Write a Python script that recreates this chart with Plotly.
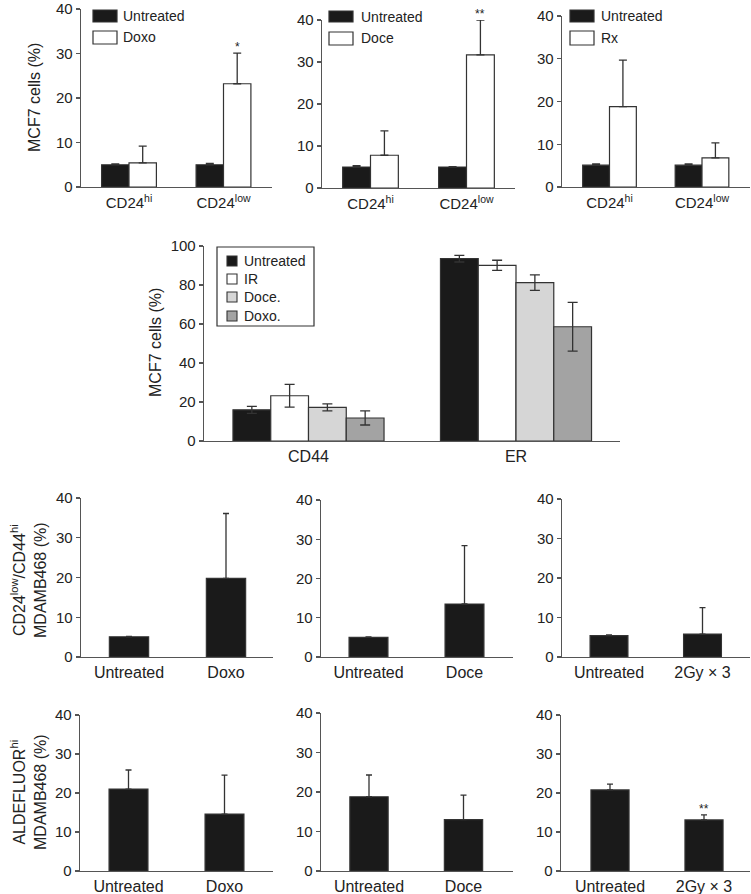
import plotly.graph_objects as go

W, H = 751, 894

# ---------------- DATA ----------------
# Row 1 : MCF7 CD24 populations
cd24_cats = ["CD24<sup>hi</sup>", "CD24<sup>low</sup>"]
r1a_untreated = [5.0, 5.0]
r1a_untreated_err = [0.2, 0.3]
r1a_doxo = [5.4, 23.2]
r1a_doxo_err = [3.8, 6.9]

r1b_untreated = [5.0, 5.0]
r1b_untreated_err = [0.3, 0.1]
r1b_doce = [7.8, 31.7]
r1b_doce_err = [5.8, 8.3]

r1c_untreated = [5.1, 5.1]
r1c_untreated_err = [0.3, 0.3]
r1c_rx = [18.8, 6.8]
r1c_rx_err = [10.9, 3.5]

# Row 2 : MCF7 CD44 / ER
marker_cats = ["CD44", "ER"]
r2_untreated = [16.0, 93.5]
r2_untreated_err = [1.8, 1.7]
r2_ir = [23.2, 90.1]
r2_ir_err = [5.8, 2.6]
r2_doce = [17.2, 81.2]
r2_doce_err = [1.8, 4.0]
r2_doxo = [11.8, 58.6]
r2_doxo_err = [3.6, 12.5]

# Row 3 : MDAMB468 CD24low/CD44hi
r3a_cats = ["Untreated", "Doxo"]
r3a_vals = [5.1, 19.8]
r3a_err = [0.1, 16.3]
r3b_cats = ["Untreated", "Doce"]
r3b_vals = [5.0, 13.5]
r3b_err = [0.1, 14.9]
r3c_cats = ["Untreated", "2Gy × 3"]
r3c_vals = [5.4, 5.8]
r3c_err = [0.2, 6.7]

# Row 4 : MDAMB468 ALDEFLUORhi
r4a_vals = [21.0, 14.6]
r4a_err = [4.9, 10.0]
r4b_vals = [18.8, 13.0]
r4b_err = [5.5, 6.2]
r4c_vals = [20.8, 13.1]
r4c_err = [1.5, 1.3]

# ---------------- STYLE ----------------
FONT = "Liberation Sans, Arial, Helvetica, sans-serif"
TXT = "#222222"
AXC = "#555555"
BLACK = "#1a1a1a"
WHITE = "#ffffff"
LGREY = "#d6d6d6"
MGREY = "#a3a3a3"
OUT = "#333333"

# panel layout: (a, b, c0, c1, y_bottom_px, y_top_px, ymax, dtick)
panels = [
    (81, 272, 129, 223.5, 187, 9, 40, 10),
    (322, 515, 370.5, 466.5, 188, 20, 40, 10),
    (562, 750, 609.5, 702, 187, 16, 40, 10),
    (204, 620, 308.5, 516, 441, 246, 100, 20),
    (81, 273, 129, 226, 657, 498, 40, 10),
    (321, 513, 368.5, 464.5, 657, 500, 40, 10),
    (562, 750, 609, 702.5, 657, 499, 40, 10),
    (80, 273, 128.5, 224.5, 871, 715, 40, 10),
    (321, 513, 369, 463.5, 871, 713, 40, 10),
    (561, 750, 610, 704, 871, 715, 40, 10),
]
xtick_sizes = [15, 15, 15, 16, 16, 16, 16, 16, 16, 16]
xtick_standoff = [2, 2, 2, 0, 0, 0, 0, 0, 0, 0]

fig = go.Figure()


def ax(i):
    return ("x" if i == 1 else f"x{i}"), ("y" if i == 1 else f"y{i}")


def add_bar(i, cats, vals, err, color, width, offset, sym, cap):
    xa, ya = ax(i)
    e = dict(type="data", array=err, color=OUT, thickness=1.3, width=cap)
    if sym:
        e["symmetric"] = True
    else:
        e["symmetric"] = False
        e["arrayminus"] = [0] * len(err)
    fig.add_trace(go.Bar(
        x=cats, y=vals, width=width, offset=offset,
        marker=dict(color=color, line=dict(color=OUT, width=1.2)),
        error_y=e, xaxis=xa, yaxis=ya, showlegend=False,
    ))


# Row 1
w1 = 0.29
add_bar(1, cd24_cats, r1a_untreated, r1a_untreated_err, BLACK, w1, -w1, False, 4)
add_bar(1, cd24_cats, r1a_doxo, r1a_doxo_err, WHITE, w1, 0, False, 4)
add_bar(2, cd24_cats, r1b_untreated, r1b_untreated_err, BLACK, w1, -w1, False, 4)
add_bar(2, cd24_cats, r1b_doce, r1b_doce_err, WHITE, w1, 0, False, 4)
add_bar(3, cd24_cats, r1c_untreated, r1c_untreated_err, BLACK, w1, -w1, False, 4)
add_bar(3, cd24_cats, r1c_rx, r1c_rx_err, WHITE, w1, 0, False, 4)

# Row 2
w2 = 0.182
add_bar(4, marker_cats, r2_untreated, r2_untreated_err, BLACK, w2, -2 * w2, True, 5)
add_bar(4, marker_cats, r2_ir, r2_ir_err, WHITE, w2, -w2, True, 5)
add_bar(4, marker_cats, r2_doce, r2_doce_err, LGREY, w2, 0, True, 5)
add_bar(4, marker_cats, r2_doxo, r2_doxo_err, MGREY, w2, w2, True, 5)

# Rows 3-4
w3 = 0.405
add_bar(5, r3a_cats, r3a_vals, r3a_err, BLACK, w3, -w3 / 2, False, 3)
add_bar(6, r3b_cats, r3b_vals, r3b_err, BLACK, w3, -w3 / 2, False, 3)
add_bar(7, r3c_cats, r3c_vals, r3c_err, BLACK, w3, -w3 / 2, False, 3)
add_bar(8, r3a_cats, r4a_vals, r4a_err, BLACK, w3, -w3 / 2, False, 3)
add_bar(9, r3b_cats, r4b_vals, r4b_err, BLACK, w3, -w3 / 2, False, 3)
add_bar(10, r3c_cats, r4c_vals, r4c_err, BLACK, w3, -w3 / 2, False, 3)

layout = dict(
    width=W, height=H, margin=dict(l=0, r=0, t=0, b=0, autoexpand=False),
    paper_bgcolor="white", plot_bgcolor="white",
    font=dict(family=FONT, color=TXT, size=15),
    showlegend=False,
)

for k, (a, b, c0, c1, yb, yt, ymax, dt) in enumerate(panels):
    i = k + 1
    d = c1 - c0
    r0 = -(c0 - a) / d
    r1 = 1 + (b - c1) / d
    xk = "xaxis" if i == 1 else f"xaxis{i}"
    yk = "yaxis" if i == 1 else f"yaxis{i}"
    xa, ya = ax(i)
    layout[xk] = dict(
        domain=[a / W, b / W], range=[r0, r1], type="category",
        anchor=ya, showline=True, linecolor=AXC, linewidth=1.3,
        ticks="", showgrid=False, zeroline=False, automargin=False,
        ticklabelstandoff=xtick_standoff[k],
        tickfont=dict(size=xtick_sizes[k], color=TXT), fixedrange=True,
    )
    layout[yk] = dict(
        domain=[1 - yb / H, 1 - yt / H], range=[0, ymax], dtick=dt,
        anchor=xa, showline=True, linecolor=AXC, linewidth=1.3,
        ticks="outside", ticklen=4, tickcolor=AXC, tickwidth=1.2,
        showgrid=False, zeroline=False, automargin=False,
        tickfont=dict(size=15, color=TXT), fixedrange=True,
    )

fig.update_layout(**layout)


def px(x):
    return x / W


def py(y):
    return 1 - y / H


shapes = []
annots = []

# Row 1 legends
leg1 = [
    (93, 117, [(10, 22), (31, 44)], 121, ["Untreated", "Doxo"]),
    (329, 353, [(11, 22), (32, 45)], 359, ["Untreated", "Doce"]),
    (570, 594, [(10, 22), (31, 45)], 599, ["Untreated", "Rx"]),
]
for x0, x1, rows, tx, labels in leg1:
    for (y0, y1), lab, col in zip(rows, labels, [BLACK, WHITE]):
        shapes.append(dict(type="rect", xref="paper", yref="paper",
                           x0=px(x0), x1=px(x1), y0=py(y1), y1=py(y0),
                           fillcolor=col, line=dict(color=OUT, width=1.2)))
        annots.append(dict(text=lab, xref="paper", yref="paper",
                           x=px(tx), y=py((y0 + y1) / 2), xanchor="left",
                           yanchor="middle", showarrow=False,
                           font=dict(size=14, color=TXT)))

# Row 2 legend
shapes.append(dict(type="rect", xref="paper", yref="paper",
                   x0=px(217), x1=px(314), y0=py(326), y1=py(247),
                   fillcolor="white", line=dict(color=OUT, width=1.2)))
for yc, lab, col in zip([261, 279, 297, 316],
                        ["Untreated", "IR", "Doce.", "Doxo."],
                        [BLACK, WHITE, LGREY, MGREY]):
    shapes.append(dict(type="rect", xref="paper", yref="paper",
                       x0=px(227), x1=px(237), y0=py(yc + 5), y1=py(yc - 5),
                       fillcolor=col, line=dict(color=OUT, width=1.1)))
    annots.append(dict(text=lab, xref="paper", yref="paper",
                       x=px(242), y=py(yc), xanchor="left", yanchor="middle",
                       showarrow=False, font=dict(size=14, color=TXT)))

# Y axis titles
ytitles = [
    ("MCF7 cells (%)", 35, 98),
    ("MCF7 cells (%)", 155, 343),
    ("CD24<sup>low</sup>/CD44<sup>hi</sup><br>MDAMB468 (%)", 28, 580),
    ("ALDEFLUOR<sup>hi</sup><br>MDAMB468 (%)", 28, 792),
]
for t, x, y in ytitles:
    annots.append(dict(text=t, xref="paper", yref="paper", x=px(x), y=py(y),
                       xanchor="center", yanchor="middle", textangle=-90,
                       showarrow=False, font=dict(size=16, color=TXT)))

# significance stars
stars = [
    ("x", "y", r1a_doxo[1] + r1a_doxo_err[1], "*", w1 / 2),
    ("x2", "y2", r1b_doce[1] + r1b_doce_err[1], "**", w1 / 2),
    ("x10", "y10", r4c_vals[1] + r4c_err[1], "**", 0),
]
for xr, yr, yv, s, dx in stars:
    annots.append(dict(text=s, xref=xr, yref=yr, x=1 + dx, y=yv,
                       xanchor="center", yanchor="bottom", showarrow=False,
                       yshift=-3, font=dict(size=12, color=TXT)))

fig.update_layout(shapes=shapes, annotations=annots)
fig.write_html(
    "out.html",
    config={"displayModeBar": False, "staticPlot": True},
    post_script="document.body.style.margin='0';document.body.style.overflow='hidden';",
)
